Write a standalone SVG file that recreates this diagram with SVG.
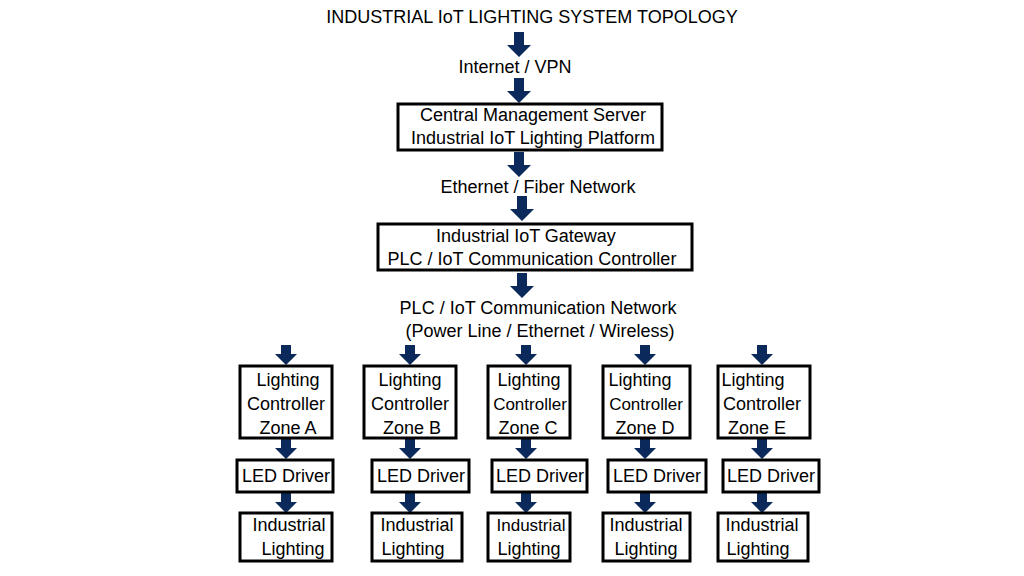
<svg xmlns="http://www.w3.org/2000/svg" xmlns:xlink="http://www.w3.org/1999/xlink" width="1024" height="576" viewBox="0 0 1024 576">
<style>
text{font-family:"Liberation Sans",Arial,sans-serif;font-size:18px;fill:#000;text-anchor:middle}
.s{font-size:17px}
rect{fill:#fff;stroke:#000;stroke-width:3}
.a{fill:#0b2a5b}
</style>
<defs>
<path id="a25" class="a" d="M-5,0 H5 V13 H12 L0,25 L-12,13 H-5 Z"/>
<path id="a20" class="a" d="M-5,0 H5 V9 H11 L0,20 L-11,9 H-5 Z"/>
</defs>
<rect x="0" y="0" width="1024" height="576" style="fill:#fff;stroke:none"/>
<text x="532" y="23">INDUSTRIAL IoT LIGHTING SYSTEM TOPOLOGY</text>
<text x="515" y="73">Internet / VPN</text>
<text x="538" y="193">Ethernet / Fiber Network</text>
<text x="538" y="314">PLC / IoT Communication Network</text>
<text x="540" y="337">(Power Line / Ethernet / Wireless)</text>
<g id="connectors">
<use href="#a25" x="519" y="32"/>
<use href="#a25" x="519" y="78"/>
<use href="#a25" x="519" y="152"/>
<use href="#a25" x="522" y="196"/>
<use href="#a25" x="522" y="273"/>
<use href="#a20" x="286" y="345"/><use href="#a20" x="410" y="345"/><use href="#a20" x="526" y="345"/><use href="#a20" x="645" y="345"/><use href="#a20" x="762" y="345"/>
<use href="#a20" x="286" y="439"/><use href="#a20" x="410" y="439"/><use href="#a20" x="526" y="439"/><use href="#a20" x="645" y="439"/><use href="#a20" x="762" y="439"/>
<use href="#a20" x="286" y="493"/><use href="#a20" x="410" y="493"/><use href="#a20" x="526" y="493"/><use href="#a20" x="645" y="493"/><use href="#a20" x="762" y="493"/>
</g>
<g id="server"><rect x="398" y="104" width="264" height="46"/><text x="533" y="121">Central Management Server</text><text x="533" y="144">Industrial IoT Lighting Platform</text></g>
<g id="gateway"><rect x="378" y="224" width="314" height="46"/><text x="526" y="242">Industrial IoT Gateway</text><text x="532" y="265">PLC / IoT Communication Controller</text></g>
<g id="ctrlA"><rect x="240" y="366" width="92" height="72"/><text x="288" y="386">Lighting</text><text x="286" y="410">Controller</text><text x="288" y="434">Zone A</text></g>
<g id="ctrlB"><rect x="364" y="366" width="92" height="72"/><text x="410" y="386">Lighting</text><text x="410" y="410">Controller</text><text x="412" y="434">Zone B</text></g>
<g id="ctrlC"><rect x="488" y="366" width="82" height="72"/><text x="529" y="386">Lighting</text><text x="530" y="410" class="s">Controller</text><text x="528" y="434">Zone C</text></g>
<g id="ctrlD"><rect x="603" y="366" width="87" height="72"/><text x="640" y="386">Lighting</text><text x="646" y="410" class="s">Controller</text><text x="645" y="434">Zone D</text></g>
<g id="ctrlE"><rect x="718" y="366" width="92" height="72"/><text x="753" y="386">Lighting</text><text x="762" y="410">Controller</text><text x="757" y="434">Zone E</text></g>
<g id="ledA"><rect x="237" y="460" width="96" height="32"/><text x="286" y="482">LED Driver</text></g>
<g id="ledB"><rect x="372" y="460" width="97" height="32"/><text x="421" y="482">LED Driver</text></g>
<g id="ledC"><rect x="492" y="460" width="95" height="32"/><text x="540" y="482">LED Driver</text></g>
<g id="ledD"><rect x="608" y="460" width="98" height="32"/><text x="657" y="482">LED Driver</text></g>
<g id="ledE"><rect x="723" y="460" width="96" height="32"/><text x="771" y="482">LED Driver</text></g>
<g id="litA"><rect x="240" y="513" width="92" height="48"/><text x="289" y="531">Industrial</text><text x="293" y="555">Lighting</text></g>
<g id="litB"><rect x="372" y="513" width="90" height="48"/><text x="417" y="531">Industrial</text><text x="413" y="555">Lighting</text></g>
<g id="litC"><rect x="488" y="513" width="82" height="48"/><text x="531" y="531" class="s">Industrial</text><text x="529" y="555">Lighting</text></g>
<g id="litD"><rect x="603" y="513" width="87" height="48"/><text x="646" y="531">Industrial</text><text x="646" y="555">Lighting</text></g>
<g id="litE"><rect x="718" y="513" width="90" height="48"/><text x="762" y="531">Industrial</text><text x="758" y="555">Lighting</text></g>
</svg>
